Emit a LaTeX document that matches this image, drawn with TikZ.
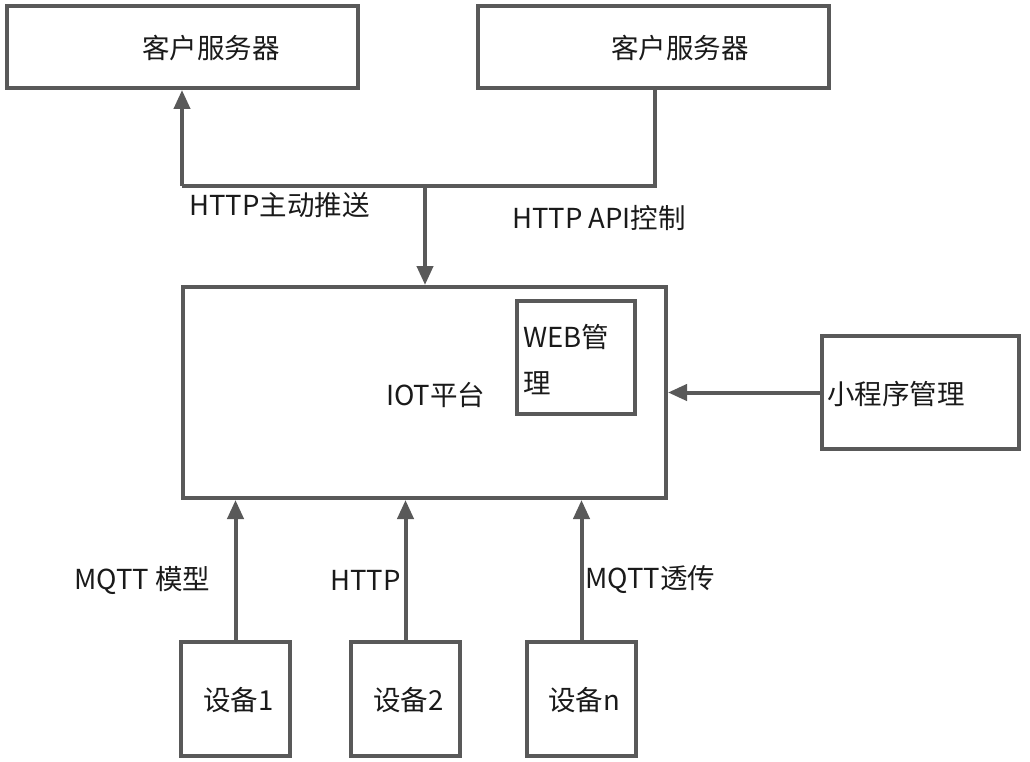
\documentclass[tikz,border=0pt]{standalone}
\usepackage{fontspec}
\setmainfont{Noto Sans CJK SC}
\usetikzlibrary{arrows.meta}
\begin{document}
\begin{tikzpicture}[x=1pt,y=-1pt,
  box/.style={draw=linec,line width=4pt,fill=white,inner sep=0pt},
  lbl/.style={inner sep=0pt,anchor=west,font=\fontsize{27.5}{33}\selectfont,text=txtc},
  arr/.style={draw=linec,line width=4pt,-{Triangle[length=19pt,width=16pt]}},
  ln/.style={draw=linec,line width=4pt}]
\definecolor{linec}{HTML}{595959}
\definecolor{txtc}{HTML}{1A1A1A}
\useasboundingbox[fill=white] (0,0) rectangle (1030,762);
% boxes
\node[box,minimum width=351pt,minimum height=82pt] (s1) at (182.5,47) {};
\node[box,minimum width=351pt,minimum height=82pt] (s2) at (653.5,47) {};
\node[box,minimum width=483pt,minimum height=211pt] (iot) at (424.5,392.5) {};
\node[box,minimum width=118pt,minimum height=113pt] (web) at (576,357.5) {};
\node[box,minimum width=197pt,minimum height=113pt] (mini) at (920.5,392.5) {};
\node[box,minimum width=109pt,minimum height=114pt] (d1) at (235.5,699) {};
\node[box,minimum width=109pt,minimum height=114pt] (d2) at (405.5,699) {};
\node[box,minimum width=109pt,minimum height=114pt] (dn) at (581.5,699) {};
% texts
\node[lbl] (t1) at (142,48) {客户服务器};
\node[lbl] (t2) at (611,48) {客户服务器};
\node[lbl] (tiot) at (386,395) {IOT平台};
\node[lbl] (tweb1) at (523,337) {WEB管};
\node[lbl] (tweb2) at (523,383) {理};
\node[lbl] (tmini) at (827,394) {小程序管理};
\node[lbl] (td1) at (203,700) {设备1};
\node[lbl] (td2) at (373,700) {设备2};
\node[lbl] (tdn) at (548,700) {设备n};
\node[lbl] (lpush) at (189,205) {HTTP主动推送};
\node[lbl] (lapi) at (512,218) {HTTP API控制};
\node[lbl] (lm1) at (74,580) {MQTT 模型};
\node[lbl] (lh) at (330,580) {HTTP};
\node[lbl] (lm2) at (585,580) {MQTT透传};
% connectors
\coordinate (jl) at (182,186);
\coordinate (jr) at (655,186);
\coordinate (jm) at (425,186);
\draw[ln] (s2.south -| jr) -- (jr) -- (jl);
\draw[arr] (jl) -- (s1.south -| jl);
\draw[arr] (jm) -- (iot.north -| jm);
\draw[arr] (mini.west) -- (iot.east |- mini.west);
\draw[arr] (d1.north) -- (iot.south -| d1.north);
\draw[arr] (d2.north) -- (iot.south -| d2.north);
\draw[arr] (dn.north) -- (iot.south -| dn.north);
\end{tikzpicture}
\end{document}
